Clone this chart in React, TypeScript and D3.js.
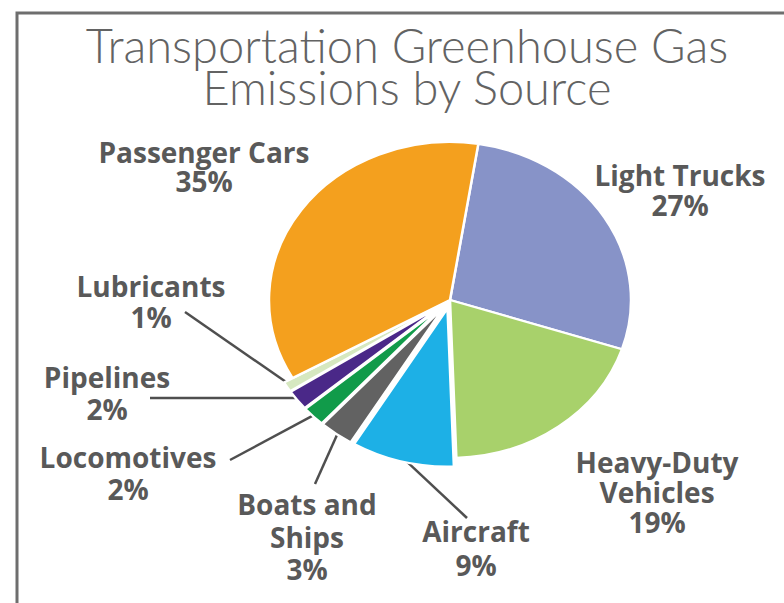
import React from 'react';
import * as d3 from 'd3';

// ---- data ----
const categories = [
  'Light Trucks',
  'Heavy-Duty Vehicles',
  'Aircraft',
  'Boats and Ships',
  'Locomotives',
  'Pipelines',
  'Lubricants',
  'Passenger Cars',
];
const shares = [27, 19, 9, 3, 2, 2, 1, 35];
const labelLines = [
  ['Light Trucks', '27%'],
  ['Heavy-Duty', 'Vehicles', '19%'],
  ['Aircraft', '9%'],
  ['Boats and', 'Ships', '3%'],
  ['Locomotives', '2%'],
  ['Pipelines', '2%'],
  ['Lubricants', '1%'],
  ['Passenger Cars', '35%'],
];
const titleLines = ['Transportation Greenhouse Gas', 'Emissions by Source'];

// ---- styling / layout ----
const colors = ['#8793C8', '#A8D16B', '#1DB0E6', '#626262', '#119B4A', '#4A2888', '#D6E8C0', '#F4A01E'];
const explode = [0, 0, 10, 10, 10, 10, 10, 0];
// label layout: center x, first baseline y, line step, leader end (or null)
const labelLayout: { x: number; y: number; step: number; lead: [number, number] | null }[] = [
  { x: 680, y: 186, step: 30, lead: null },
  { x: 657, y: 473, step: 30, lead: null },
  { x: 476, y: 542, step: 34, lead: [467, 518] },
  { x: 307, y: 515, step: 32.5, lead: [315, 484] },
  { x: 128, y: 468, step: 32, lead: [230, 460] },
  { x: 107, y: 388, step: 32, lead: [150, 398] },
  { x: 151, y: 297, step: 31, lead: [185, 312] },
  { x: 204, y: 163, step: 29, lead: null },
];

const W = 784;
const H = 603;
const cx = 450;
const cy = 300;
const R = 181;
const ky = 0.873;
const startDeg = 9;

export default function App() {
  const pie = d3
    .pie<number>()
    .value((d) => d)
    .sort(null)
    .startAngle((startDeg * Math.PI) / 180)
    .endAngle((startDeg * Math.PI) / 180 + 2 * Math.PI);
  const arcs = pie(shares);
  const arc = d3.arc<d3.PieArcDatum<number>>().innerRadius(0).outerRadius(R);

  return (
    <svg width={W} height={H} style={{ position: 'absolute', left: 0, top: 0, background: '#fff' }}>
      <rect x={0} y={0} width={W} height={H} fill="#fff" />
      {/* frame */}
      <path d={`M17,${H} L17,13 L${W},13`} fill="none" stroke="#6e6e6e" strokeWidth={3} />
      {/* title */}
      {titleLines.map((t, i) => (
        <text
          key={t}
          x={407}
          y={63 + i * 42}
          textAnchor="middle"
          fontFamily="Lato, 'Open Sans', sans-serif"
          fontWeight={300}
          fontSize={47}
          fill="#636363"
        >
          {t}
        </text>
      ))}
      {/* leader lines */}
      {arcs.map((a, i) => {
        const lay = labelLayout[i];
        if (!lay.lead) return null;
        const mid = (a.startAngle + a.endAngle) / 2;
        const rr = R - 4 + explode[i];
        const x1 = cx + Math.sin(mid) * rr;
        const y1 = cy - Math.cos(mid) * rr * ky;
        return (
          <line
            key={'l' + i}
            x1={x1}
            y1={y1}
            x2={lay.lead[0]}
            y2={lay.lead[1]}
            stroke="#4f4f4f"
            strokeWidth={2.5}
          />
        );
      })}
      {/* pie */}
      <g transform={`translate(${cx},${cy}) scale(1,${ky})`}>
        {arcs.map((a, i) => {
          const mid = (a.startAngle + a.endAngle) / 2;
          const dx = Math.sin(mid) * explode[i];
          const dy = -Math.cos(mid) * explode[i];
          return (
            <path
              key={categories[i]}
              d={arc(a) || ''}
              transform={`translate(${dx},${dy})`}
              fill={colors[i]}
              stroke="#fff"
              strokeWidth={2.5}
              strokeLinejoin="round"
            />
          );
        })}
      </g>
      {/* labels */}
      {labelLines.map((lines, i) => (
        <text
          key={'t' + i}
          textAnchor="middle"
          fontFamily="'Open Sans', sans-serif"
          fontWeight={700}
          fontSize={28}
          fill="#595959"
        >
          {lines.map((ln, j) => (
            <tspan key={j} x={labelLayout[i].x} y={labelLayout[i].y + j * labelLayout[i].step}>
              {ln}
            </tspan>
          ))}
        </text>
      ))}
    </svg>
  );
}
